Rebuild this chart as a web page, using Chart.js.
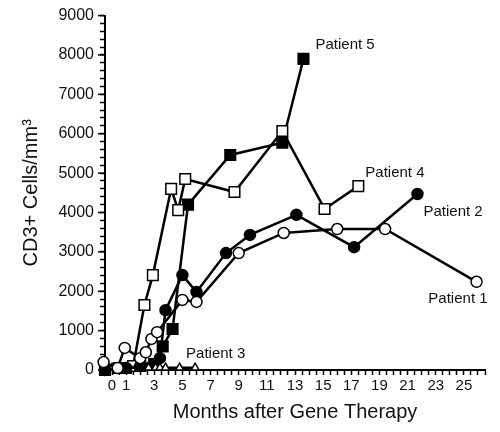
<!DOCTYPE html>
<html>
<head>
<meta charset="utf-8">
<script src="https://cdn.jsdelivr.net/npm/chart.js@4"></script>
<style>
  html, body { margin: 0; padding: 0; background: #fff; }
  #wrap { width: 500px; height: 432px; }
</style>
</head>
<body>
<div id="wrap"><canvas id="cd3Chart"></canvas></div>
<script>
const seriesNames = ["Patient 1", "Patient 2", "Patient 3", "Patient 4", "Patient 5"];

const p1Months = [-0.6, 0.4, 0.9, 2.0, 2.4, 2.8, 3.2, 5.0, 6.0, 9.0, 12.2, 16.0, 19.4, 25.9];
const p1Cells  = [200, 50, 560, 300, 450, 790, 960, 1780, 1730, 2970, 3480, 3580, 3580, 2240];

const p2Months = [-0.5, 1.0, 2.0, 3.4, 3.8, 5.0, 6.0, 8.1, 9.8, 13.1, 17.2, 21.7];
const p2Cells  = [0, 50, 100, 300, 1520, 2410, 1980, 2970, 3430, 3940, 3120, 4470];

const p3Months = [-0.5, 0.0, 1.0, 1.9, 2.6, 3.1, 3.4, 3.8, 4.8, 5.9];
const p3Cells  = [60, 60, 60, 60, 60, 60, 60, 60, 60, 60];

const p4Months = [-0.5, 0.5, 1.5, 2.3, 2.9, 4.2, 4.7, 5.2, 8.7, 12.1, 15.1, 17.5];
const p4Cells  = [0, 50, 100, 1650, 2410, 4600, 4060, 4850, 4520, 6070, 4090, 4670];

const p5Months = [-0.5, 1.0, 2.0, 3.0, 3.6, 4.3, 5.4, 8.4, 12.1, 13.6];
const p5Cells  = [0, 50, 100, 150, 600, 1040, 4200, 5460, 5770, 7900];

const xTickLabels = [0, 1, 3, 5, 7, 9, 11, 13, 15, 17, 19, 21, 23, 25];
const yTickLabels = [0, 1000, 2000, 3000, 4000, 5000, 6000, 7000, 8000, 9000];

const FONT = "'Liberation Sans', Arial, sans-serif";
const INK = '#111';

function pts(xs, ys) {
  return xs.map((x, i) => ({ x: x, y: ys[i] }));
}

function series(i, xs, ys, style, filled, radius) {
  return {
    label: seriesNames[i],
    data: pts(xs, ys),
    borderColor: '#000',
    borderWidth: 2.5,
    pointStyle: style,
    pointRadius: radius,
    pointBackgroundColor: filled ? '#000' : '#fff',
    pointBorderColor: '#000',
    pointBorderWidth: 1.5,
    tension: 0,
    clip: false
  };
}

// label offsets from each series' last point (pixels)
const labelPlace = [
  { dx: 11, dy: 17, align: 'right' },
  { dx: 6, dy: 18, align: 'left' },
  { dx: -9, dy: -14, align: 'left' },
  { dx: 7, dy: -13, align: 'left' },
  { dx: 12, dy: -14, align: 'left' }
];

const seriesLabels = {
  id: 'seriesLabels',
  afterDatasetsDraw(chart) {
    const ctx = chart.ctx;
    ctx.save();
    ctx.font = "15px " + FONT;
    ctx.fillStyle = INK;
    ctx.textBaseline = 'middle';
    chart.data.datasets.forEach((ds, i) => {
      const meta = chart.getDatasetMeta(i);
      const last = meta.data[meta.data.length - 1];
      const p = labelPlace[i];
      ctx.textAlign = p.align;
      ctx.fillText(ds.label, last.x + p.dx, last.y + p.dy);
    });
    ctx.restore();
  }
};

// longer tick marks at the labelled thousands on the y axis
const majorTicks = {
  id: 'majorTicks',
  afterDraw(chart) {
    const y = chart.scales.y;
    const ctx = chart.ctx;
    ctx.save();
    ctx.strokeStyle = '#000';
    ctx.lineWidth = 1.5;
    yTickLabels.forEach(v => {
      const py = y.getPixelForValue(v);
      ctx.beginPath();
      ctx.moveTo(y.right - 7, py);
      ctx.lineTo(y.right, py);
      ctx.stroke();
    });
    ctx.restore();
  }
};

new Chart(document.getElementById('cd3Chart'), {
  type: 'line',
  data: {
    datasets: [
      series(0, p1Months, p1Cells, 'circle', false, 5.5),
      series(1, p2Months, p2Cells, 'circle', true, 5.5),
      series(2, p3Months, p3Cells, 'triangle', false, 4.5),
      series(3, p4Months, p4Cells, 'rect', false, 7.5),
      series(4, p5Months, p5Cells, 'rect', true, 7.5)
    ]
  },
  options: {
    responsive: true,
    maintainAspectRatio: false,
    animation: false,
    layout: { padding: { top: 15, right: 15, left: 0, bottom: 0 } },
    plugins: {
      legend: { display: false },
      tooltip: { enabled: false }
    },
    scales: {
      x: {
        type: 'linear',
        min: -0.5,
        max: 26.5,
        afterFit: s => { s.height = 62; },
        border: { display: true, color: '#000', width: 2 },
        grid: { drawOnChartArea: false, color: '#000', tickLength: 5, tickWidth: 1.5 },
        ticks: {
          stepSize: 0.5,
          autoSkip: false,
          maxRotation: 0,
          padding: 2,
          color: INK,
          font: { family: FONT, size: 15 },
          callback: v => xTickLabels.includes(v) ? String(v) : ''
        },
        title: {
          display: true,
          text: 'Months after Gene Therapy',
          color: INK,
          font: { family: FONT, size: 20 },
          padding: { top: 0, bottom: 8 }
        }
      },
      y: {
        min: 0,
        max: 9000,
        afterFit: s => { s.width = 105; },
        border: { display: true, color: '#000', width: 2 },
        grid: { drawOnChartArea: false, color: '#000', tickLength: 5, tickWidth: 1.5 },
        ticks: {
          stepSize: 200,
          autoSkip: false,
          padding: 6,
          color: INK,
          font: { family: FONT, size: 16 },
          callback: v => yTickLabels.includes(v) ? String(v) : ''
        },
        title: {
          display: true,
          text: 'CD3+ Cells/mm³',
          color: INK,
          font: { family: FONT, size: 20 },
          padding: { top: 19, bottom: 0 }
        }
      }
    }
  },
  plugins: [seriesLabels, majorTicks]
});
</script>
</body>
</html>
